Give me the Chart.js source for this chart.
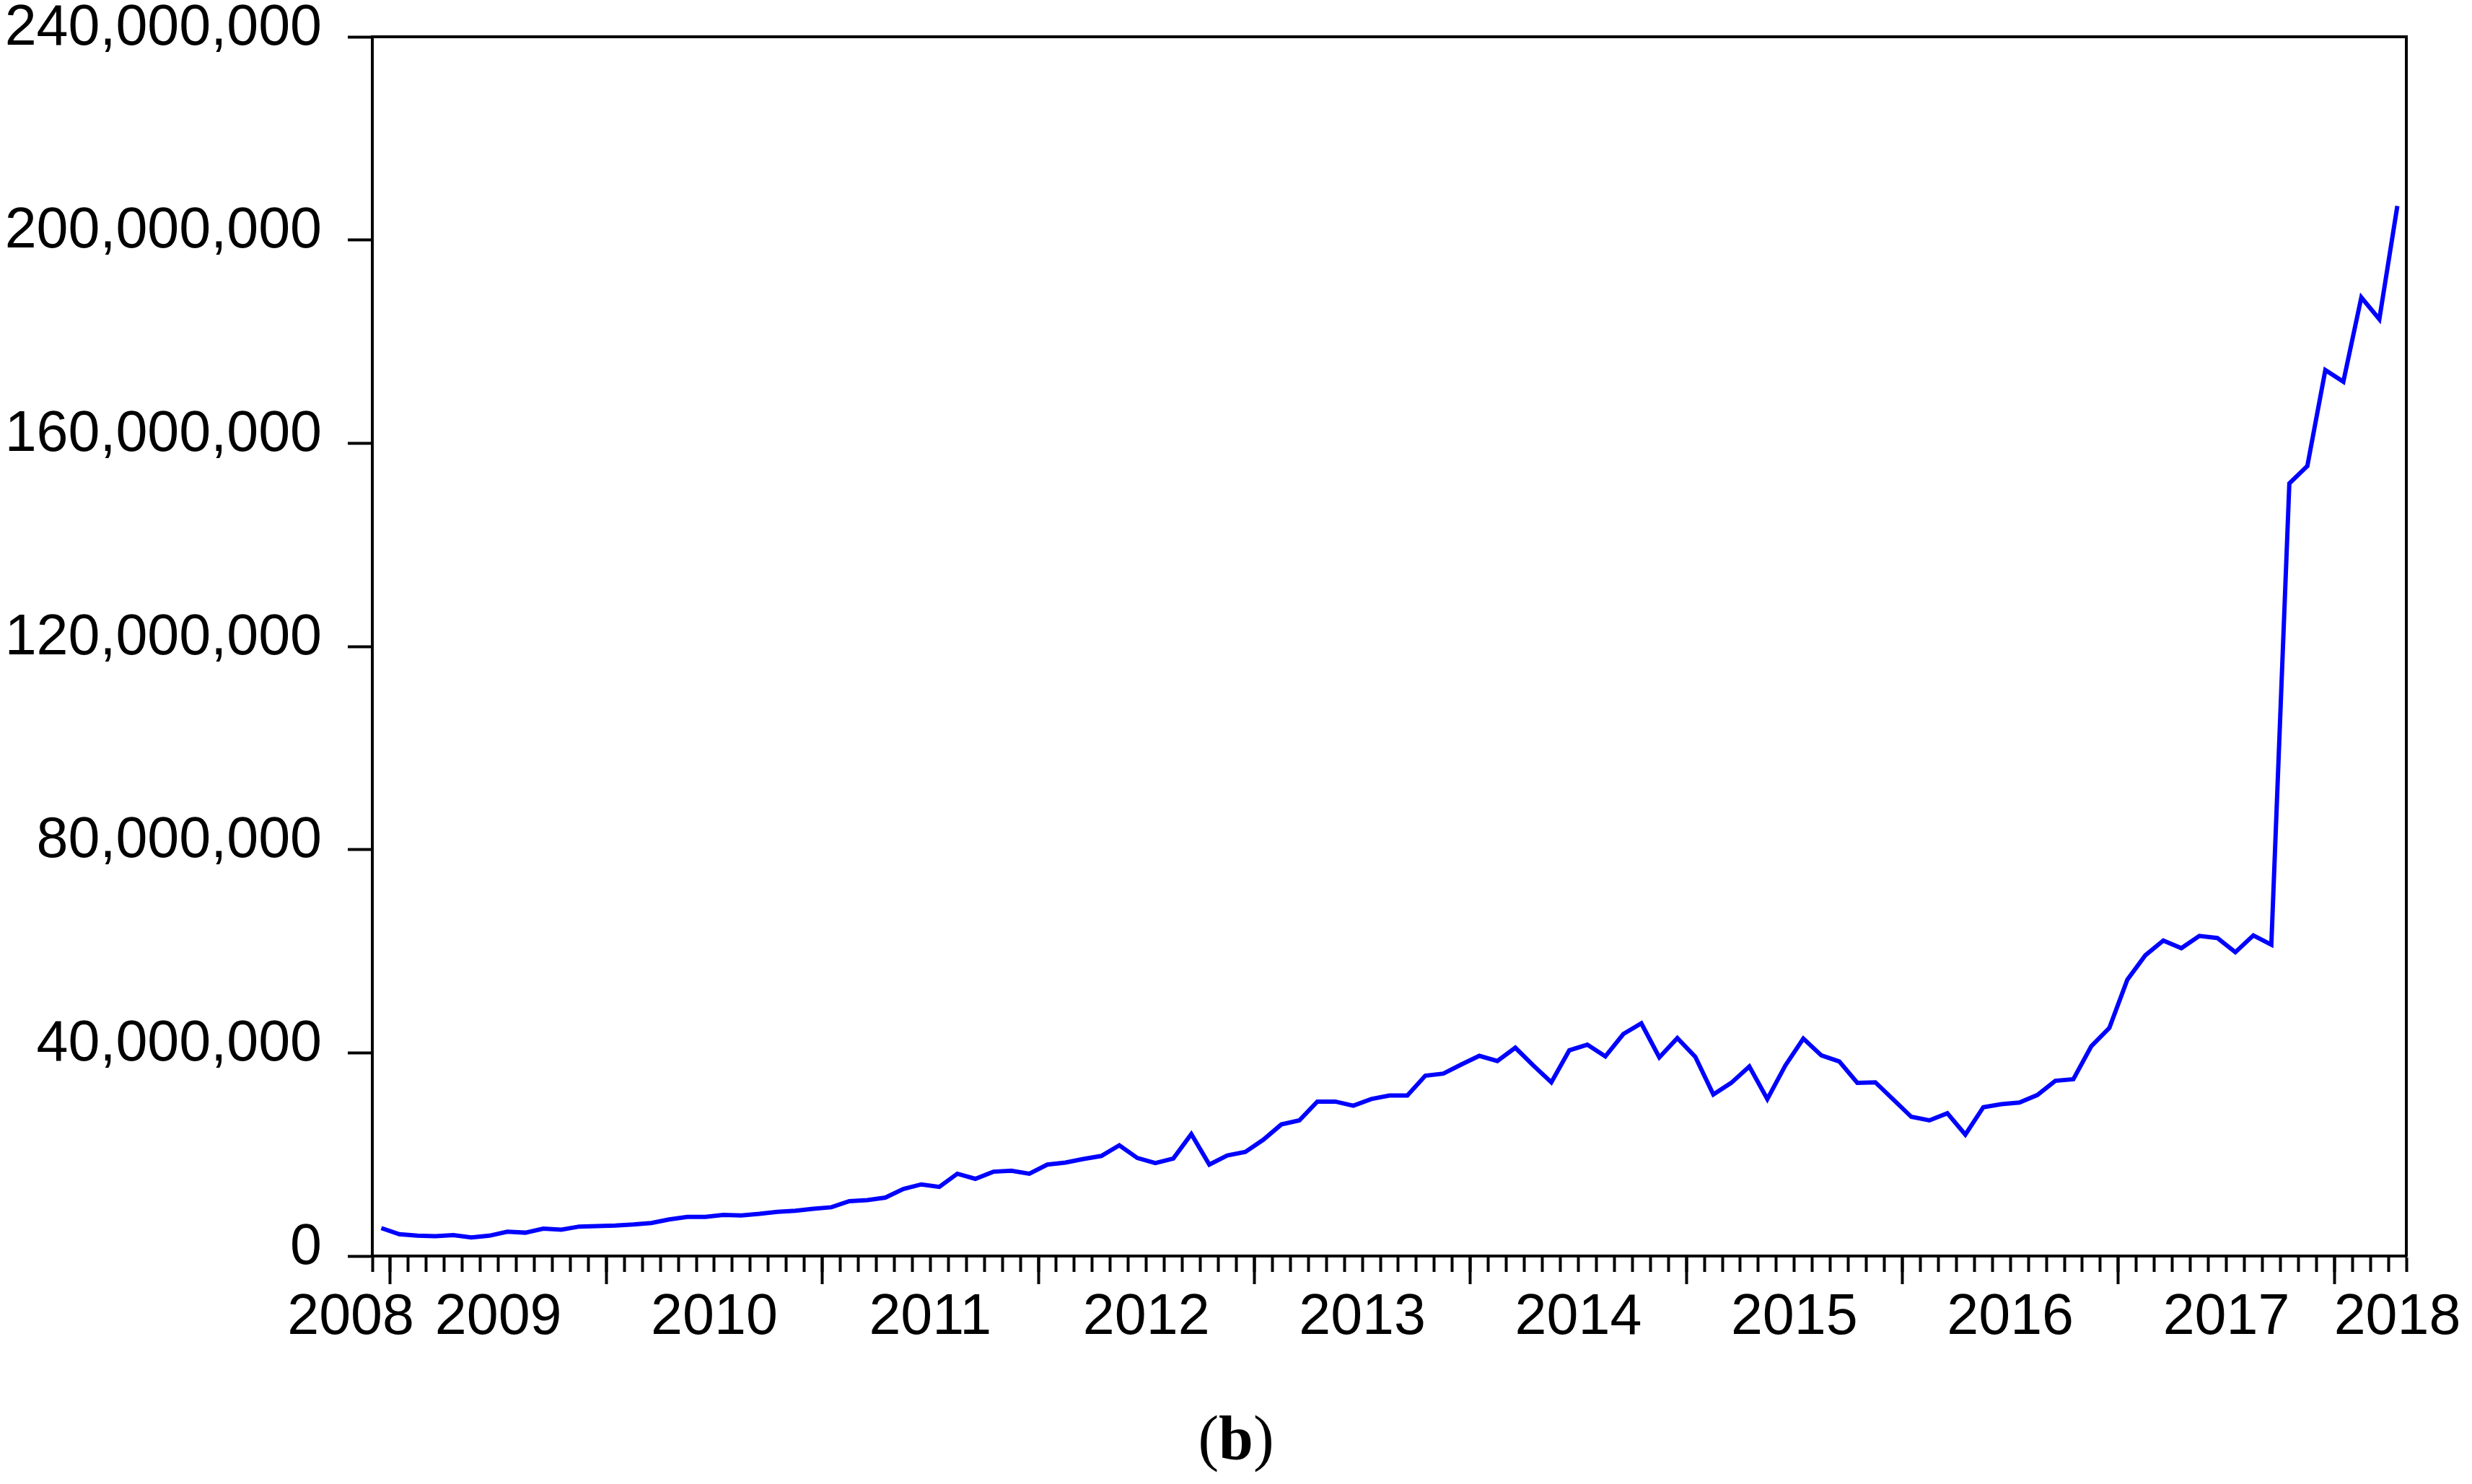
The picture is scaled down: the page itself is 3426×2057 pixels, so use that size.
<!DOCTYPE html>
<html>
<head>
<meta charset="utf-8">
<script src="https://cdn.jsdelivr.net/npm/chart.js@4.4.1/dist/chart.umd.min.js"></script>
<style>
  html, body { margin: 0; padding: 0; background: #ffffff; overflow: hidden; }
  #wrap { position: relative; width: 3426px; height: 2057px; background: #ffffff; }
  #cap { position: absolute; left: 0; top: 1950px; width: 3426px; text-align: center;
         font-family: "Liberation Serif", "Times New Roman", serif; font-size: 86px; line-height: 86px; color: #000; }
</style>
</head>
<body>
<div id="wrap">
  <canvas id="chart"></canvas>
  <div id="cap">(<b>b</b>)</div>
</div>
<script>
// ---- Data (monthly observations) ----
const months = [
  '2008M12',
  '2009M01','2009M02','2009M03','2009M04','2009M05','2009M06','2009M07','2009M08','2009M09','2009M10','2009M11','2009M12',
  '2010M01','2010M02','2010M03','2010M04','2010M05','2010M06','2010M07','2010M08','2010M09','2010M10','2010M11','2010M12',
  '2011M01','2011M02','2011M03','2011M04','2011M05','2011M06','2011M07','2011M08','2011M09','2011M10','2011M11','2011M12',
  '2012M01','2012M02','2012M03','2012M04','2012M05','2012M06','2012M07','2012M08','2012M09','2012M10','2012M11','2012M12',
  '2013M01','2013M02','2013M03','2013M04','2013M05','2013M06','2013M07','2013M08','2013M09','2013M10','2013M11','2013M12',
  '2014M01','2014M02','2014M03','2014M04','2014M05','2014M06','2014M07','2014M08','2014M09','2014M10','2014M11','2014M12',
  '2015M01','2015M02','2015M03','2015M04','2015M05','2015M06','2015M07','2015M08','2015M09','2015M10','2015M11','2015M12',
  '2016M01','2016M02','2016M03','2016M04','2016M05','2016M06','2016M07','2016M08','2016M09','2016M10','2016M11','2016M12',
  '2017M01','2017M02','2017M03','2017M04','2017M05','2017M06','2017M07','2017M08','2017M09','2017M10','2017M11','2017M12',
  '2018M01','2018M02','2018M03','2018M04'
];

const values = [
  5500000,
  4300000, 4000000, 3900000, 4100000, 3650000, 4000000, 4800000, 4600000, 5400000, 5200000, 5800000, 5900000,
  6000000, 6200000, 6500000, 7200000, 7700000, 7700000, 8100000, 8000000, 8300000, 8700000, 8900000, 9300000,
  9600000, 10800000, 11000000, 11500000, 13200000, 14100000, 13600000, 16200000, 15200000, 16600000, 16800000, 16200000,
  18000000, 18400000, 19100000, 19700000, 21800000, 19300000, 18300000, 19200000, 24000000, 18000000, 19800000, 20500000,
  22900000, 25900000, 26700000, 30400000, 30400000, 29600000, 30900000, 31600000, 31600000, 35500000, 35900000, 37700000,
  39400000, 38400000, 41000000, 37500000, 34200000, 40500000, 41600000, 39300000, 43700000, 45800000, 39100000, 42900000,
  39200000, 31800000, 34100000, 37300000, 30900000, 37500000, 42800000, 39500000, 38300000, 34100000, 34200000, 30800000,
  27400000, 26700000, 28100000, 23900000, 29300000, 29900000, 30200000, 31700000, 34500000, 34800000, 41300000, 44900000,
  54400000, 59200000, 62100000, 60600000, 63000000, 62600000, 59800000, 63100000, 61300000, 152100000, 155500000, 174400000,
  172100000, 188700000, 184400000, 206700000
];

const yearLabels = ['2008','2009','2010','2011','2012','2013','2014','2015','2016','2017','2018'];
const yTicks = [0, 40000000, 80000000, 120000000, 160000000, 200000000, 240000000];

// ---- Derived axis helpers (from the arrays above) ----
const nMonths = months.length;
const yearBoundaries = [];
months.forEach((m, i) => { if (m.endsWith('M01')) yearBoundaries.push(i); });

// label position per year: centre of the year's span of months, edge labels nudged like the original
const edgeNudge = { first: -1.7, last: 1.5 };
const labelPos = new Map();
yearLabels.forEach((yr, k) => {
  const idx = months.map((m, i) => m.startsWith(yr) ? i : -1).filter(i => i >= 0);
  let c = (idx[0] + idx[idx.length - 1] + 1) / 2;
  if (k === 0) c += edgeNudge.first;
  if (k === yearLabels.length - 1) c += edgeNudge.last;
  labelPos.set(c, yr);
});
const monthEdges = Array.from({ length: nMonths + 1 }, (_, i) => i);
const mainTickValues = Array.from(new Set(monthEdges.concat(Array.from(labelPos.keys())))).sort((a, b) => a - b);

const FONT = { family: '"Liberation Sans", Arial, Helvetica, sans-serif', size: 79, lineHeight: 1.2 };

const noPad = s => { s.paddingTop = 0; s.paddingBottom = 0; s.paddingLeft = 0; s.paddingRight = 0; };

new Chart(document.getElementById('chart'), {
  type: 'line',
  data: {
    datasets: [{
      data: values.map((v, i) => ({ x: i + 0.5, y: v })),
      borderColor: '#0000ff',
      borderWidth: 6,
      pointRadius: 0,
      tension: 0,
      fill: false,
      borderJoinStyle: 'miter',
      xAxisID: 'x',
      yAxisID: 'y'
    }]
  },
  options: {
    responsive: true,
    maintainAspectRatio: false,
    animation: false,
    layout: { padding: { left: 0, right: 91, top: 51, bottom: 116 } },
    plugins: { legend: { display: false }, tooltip: { enabled: false } },
    scales: {
      x: {
        type: 'linear', position: 'bottom', min: 0, max: nMonths,
        afterFit: s => { s.height = 200; noPad(s); },
        afterBuildTicks: s => { s.ticks = mainTickValues.map(v => ({ value: v })); },
        grid: {
          drawOnChartArea: false, drawTicks: true, tickLength: 22, tickWidth: 4,
          tickColor: c => (c.tick && Number.isInteger(c.tick.value)) ? '#000000' : 'rgba(0,0,0,0)'
        },
        border: { display: true, color: '#000000', width: 4 },
        ticks: {
          autoSkip: false, maxRotation: 0, minRotation: 0, padding: 17, color: '#000000', font: FONT,
          callback: v => labelPos.has(v) ? labelPos.get(v) : ''
        }
      },
      xYear: {
        type: 'linear', axis: 'x', position: { y: 0 }, min: 0, max: nMonths,
        afterFit: s => { noPad(s); },
        afterBuildTicks: s => { s.ticks = yearBoundaries.map(v => ({ value: v })); },
        grid: { drawOnChartArea: false, drawTicks: true, tickLength: 39, tickWidth: 4, tickColor: '#000000' },
        border: { display: false },
        ticks: { display: false }
      },
      xTop: {
        type: 'linear', axis: 'x', position: 'top', min: 0, max: nMonths,
        afterFit: s => { s.height = 0; noPad(s); },
        grid: { display: false },
        ticks: { display: false },
        border: { display: true, color: '#000000', width: 4 }
      },
      y: {
        type: 'linear', position: 'left', min: 0, max: 240000000,
        afterFit: s => { s.width = 516; noPad(s); },
        afterBuildTicks: s => { s.ticks = yTicks.map(v => ({ value: v })); },
        grid: { drawOnChartArea: false, drawTicks: true, tickLength: 34, tickWidth: 4, tickColor: '#000000' },
        border: { display: true, color: '#000000', width: 4 },
        ticks: {
          padding: 36, labelOffset: -11, color: '#000000', font: FONT,
          callback: v => Number(v).toLocaleString('en-US')
        }
      },
      yRight: {
        type: 'linear', axis: 'y', position: 'right', min: 0, max: 240000000,
        afterFit: s => { s.width = 0; noPad(s); },
        grid: { display: false },
        ticks: { display: false },
        border: { display: true, color: '#000000', width: 4 }
      }
    }
  }
});
</script>
</body>
</html>
